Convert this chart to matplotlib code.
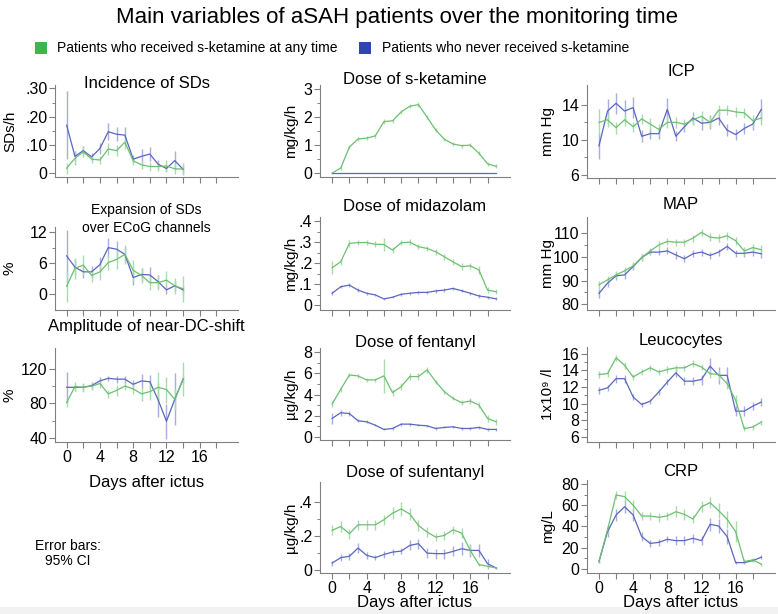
import numpy as np
import matplotlib
matplotlib.use('Agg')
import matplotlib.pyplot as plt
from matplotlib.patches import Rectangle

plt.rcParams['font.family'] = ['Liberation Sans', 'DejaVu Sans']

W, H = 778, 614

GREEN = '#6cc070'
BLUE = '#5a66c0'
GREEN_ERR = '#a8dcaa'
BLUE_ERR = '#a6ade0'
AXIS = '#808080'

days_sd = list(range(15))
days = list(range(20))

# --- SD data (days 0-14) ---
sd_inc_g = [0.018, 0.053, 0.076, 0.050, 0.047, 0.086, 0.080, 0.110, 0.044, 0.030, 0.024, 0.024, 0.026, 0.016, 0.015]
sd_inc_g_err = [0.02, 0.025, 0.02, 0.015, 0.015, 0.02, 0.02, 0.025, 0.015, 0.015, 0.015, 0.015, 0.02, 0.02, 0.02]
sd_inc_b = [0.170, 0.060, 0.080, 0.058, 0.088, 0.147, 0.138, 0.135, 0.050, 0.060, 0.068, 0.032, 0.017, 0.045, 0.014]
sd_inc_b_err = [0.12, 0.02, 0.015, 0.015, 0.02, 0.03, 0.025, 0.03, 0.015, 0.025, 0.025, 0.015, 0.01, 0.035, 0.015]

sd_exp_g = [1.5, 5.0, 5.6, 3.6, 4.3, 6.1, 6.7, 7.7, 4.6, 3.6, 2.2, 2.2, 2.7, 1.6, 1.0]
sd_exp_g_err = [3, 2, 2, 1.2, 1.5, 1.5, 1.8, 1.8, 2, 1.5, 1.5, 1.5, 1.8, 1.5, 2.5]
sd_exp_b = [7.4, 5.2, 4.3, 4.3, 5.7, 9.0, 8.7, 7.7, 3.2, 3.8, 3.7, 2.4, 0.8, 1.6, 0.8]
sd_exp_b_err = [5, 1.5, 1.2, 1.2, 1.5, 1.8, 1.5, 1.5, 1.5, 1.2, 1.5, 1.2, 0.8, 1.0, 0.8]

amp_g = [81, 99.4, 98.6, 100, 103, 91, 95, 100, 96.7, 91, 93.6, 98.6, 96, 84.7, 108]
amp_g_err = [5, 5, 5, 5, 5, 5, 6, 5, 6, 8, 10, 18, 15, 12, 20]
amp_b = [98.6, 98.6, 98.6, 100.6, 106, 109, 108, 108, 102, 106, 105, 84, 59.4, 84.7, 108]
amp_b_err = [18, 4, 4, 4, 4, 3, 4, 4, 5, 8, 8, 20, 20, 30, 5]

# --- medication (days 0-19) ---
ket_g = [0.0, 0.18, 0.93, 1.22, 1.25, 1.33, 1.84, 1.87, 2.19, 2.39, 2.45, 2.0, 1.54, 1.21, 1.04, 0.98, 1.0, 0.71, 0.33, 0.24]
ket_g_err = [0.02, 0.06, 0.07, 0.07, 0.07, 0.08, 0.08, 0.08, 0.08, 0.08, 0.08, 0.07, 0.07, 0.06, 0.06, 0.07, 0.08, 0.08, 0.08, 0.07]
ket_b = [0.0] * 20
ket_b_err = [0.0] * 20

mid_g = [0.178, 0.206, 0.294, 0.298, 0.298, 0.290, 0.289, 0.262, 0.297, 0.300, 0.278, 0.270, 0.254, 0.230, 0.206, 0.183, 0.187, 0.167, 0.071, 0.063]
mid_g_err = [0.03, 0.015, 0.015, 0.012, 0.012, 0.015, 0.03, 0.015, 0.012, 0.015, 0.012, 0.012, 0.015, 0.015, 0.015, 0.015, 0.015, 0.02, 0.015, 0.012]
mid_b = [0.056, 0.087, 0.095, 0.071, 0.056, 0.048, 0.029, 0.037, 0.051, 0.056, 0.060, 0.060, 0.067, 0.071, 0.079, 0.068, 0.056, 0.043, 0.037, 0.029]
mid_b_err = [0.01, 0.008, 0.008, 0.008, 0.006, 0.006, 0.005, 0.006, 0.008, 0.008, 0.008, 0.008, 0.008, 0.008, 0.008, 0.008, 0.008, 0.008, 0.007, 0.007]

fen_g = [3.1, 4.5, 5.85, 5.76, 5.38, 5.38, 5.76, 4.18, 4.75, 5.7, 5.7, 6.33, 5.22, 4.27, 3.64, 3.23, 3.39, 3.0, 1.74, 1.42]
fen_g_err = [0.3, 0.25, 0.2, 0.2, 0.2, 0.2, 1.6, 0.3, 0.3, 0.3, 0.3, 0.3, 0.2, 0.2, 0.2, 0.25, 0.25, 0.3, 0.3, 0.3]
fen_b = [1.74, 2.28, 2.2, 1.52, 1.42, 1.1, 0.7, 0.79, 1.2, 1.2, 1.1, 1.04, 0.79, 0.89, 0.95, 0.79, 0.79, 0.89, 0.7, 0.7]
fen_b_err = [0.5, 0.3, 0.2, 0.15, 0.15, 0.12, 0.1, 0.1, 0.15, 0.15, 0.12, 0.12, 0.1, 0.1, 0.1, 0.1, 0.1, 0.12, 0.15, 0.15]

suf_g = [0.233, 0.256, 0.213, 0.266, 0.266, 0.266, 0.296, 0.335, 0.360, 0.330, 0.262, 0.223, 0.193, 0.203, 0.236, 0.217, 0.114, 0.030, 0.020, 0.010]
suf_g_err = [0.03, 0.03, 0.03, 0.03, 0.03, 0.03, 0.03, 0.035, 0.04, 0.035, 0.03, 0.03, 0.025, 0.025, 0.025, 0.03, 0.03, 0.01, 0.01, 0.005]
suf_b = [0.039, 0.071, 0.079, 0.128, 0.085, 0.071, 0.090, 0.104, 0.110, 0.144, 0.154, 0.098, 0.095, 0.095, 0.108, 0.124, 0.114, 0.114, 0.035, 0.010]
suf_b_err = [0.015, 0.02, 0.02, 0.03, 0.02, 0.015, 0.02, 0.02, 0.02, 0.03, 0.03, 0.03, 0.03, 0.03, 0.03, 0.04, 0.04, 0.04, 0.03, 0.005]

# --- monitoring (days 0-19) ---
icp_g = [12.0, 12.3, 11.4, 12.3, 11.5, 12.4, 11.8, 11.2, 12.0, 12.0, 11.8, 12.3, 12.7, 12.0, 13.4, 13.4, 13.2, 13.1, 12.2, 12.5]
icp_g_err = [1.5, 0.8, 0.7, 0.7, 0.6, 0.6, 0.7, 0.6, 0.7, 0.6, 0.6, 0.6, 0.6, 0.6, 0.6, 0.6, 0.6, 0.6, 0.7, 0.8]
icp_b = [9.3, 13.3, 14.2, 13.3, 13.7, 10.4, 10.7, 10.7, 13.5, 10.4, 11.5, 12.5, 11.9, 12.0, 12.5, 11.1, 10.6, 11.3, 11.8, 13.5]
icp_b_err = [1.5, 1.4, 1.2, 1.3, 1.2, 0.7, 0.6, 0.6, 1.3, 0.6, 0.6, 0.7, 0.8, 0.8, 0.8, 0.7, 0.6, 0.6, 0.7, 1.2]

map_g = [88.2, 90.3, 92.4, 94.1, 96.2, 99.7, 102.5, 105, 106.5, 106.2, 106.2, 107.9, 110.3, 108.3, 107.9, 108.9, 106.8, 102.5, 103.9, 103]
map_g_err = [1.8, 1.5, 1.5, 1.5, 1.5, 1.4, 1.4, 1.5, 1.5, 1.5, 1.5, 1.5, 1.6, 1.6, 1.6, 1.6, 1.6, 1.6, 1.7, 1.8]
map_b = [84.6, 88.9, 92, 92.4, 95.9, 99.7, 102, 102, 102.5, 100.8, 99.2, 101.3, 102, 100.6, 102, 104.4, 101.5, 101.5, 102, 101.3]
map_b_err = [2, 1.8, 1.8, 1.6, 1.5, 1.4, 1.4, 1.4, 1.5, 1.5, 1.5, 1.5, 1.5, 1.5, 1.5, 1.6, 1.5, 1.5, 1.6, 1.8]

leu_g = [13.5, 13.6, 15.5, 14.6, 13.2, 13.8, 14.3, 13.8, 14.1, 14.3, 14.3, 14.8, 14.4, 13.6, 13.5, 12.4, 10.4, 7.0, 7.2, 7.8]
leu_g_err = [0.4, 0.4, 0.4, 0.4, 0.4, 0.4, 0.4, 0.4, 0.4, 0.4, 0.4, 0.4, 0.4, 0.5, 0.6, 0.6, 0.6, 0.3, 0.3, 0.3]
leu_b = [11.6, 11.9, 13.0, 13.0, 10.8, 9.9, 10.3, 11.4, 12.6, 13.7, 12.7, 12.7, 12.9, 14.5, 13.4, 13.4, 9.1, 9.1, 9.7, 10.2]
leu_b_err = [0.4, 0.4, 0.5, 0.5, 0.4, 0.3, 0.3, 0.4, 0.4, 0.5, 0.5, 0.5, 0.6, 1.0, 1.0, 1.0, 0.6, 0.6, 0.5, 0.5]

crp_g = [6.9, 36.7, 69.7, 68.1, 60, 49.8, 49.8, 48.6, 50, 53.9, 51.4, 47, 58.6, 62.4, 54.9, 46.7, 35, 6.9, 8.5, 4.4]
crp_g_err = [1.5, 4, 4, 5, 5, 4, 4, 4, 4, 5, 5, 4, 5, 5, 7, 8, 10, 2, 2, 1.5]
crp_b = [6.9, 35, 50.8, 58.6, 50.8, 30.4, 24, 25, 27.9, 26.6, 26.6, 28.8, 26.6, 42, 40.4, 30.4, 5.9, 5.9, 7.8, 11]
crp_b_err = [1.5, 5, 6, 6, 6, 4, 3, 3, 3, 4, 4, 4, 4, 6, 7, 7, 1.5, 1.5, 1.5, 2]

fig = plt.figure(figsize=(W / 100, H / 100), dpi=100)
fig.patch.set_facecolor('white')


def px_axes(left, right, top, bottom):
    return fig.add_axes([left / W, 1 - bottom / H, (right - left) / W, (bottom - top) / H])


def panel(box, title, title_y, ylabel, ylabel_x, ylim, yticks, yticklabels,
          x, g, g_err, b, b_err, xlabels=False, title_size=12):
    left, right, top, bottom = box
    ax = px_axes(left, right, top, bottom)
    ax.errorbar(x, b, yerr=b_err, fmt='none', ecolor=BLUE_ERR, elinewidth=1.0, capsize=0)
    ax.errorbar(x, g, yerr=g_err, fmt='none', ecolor=GREEN_ERR, elinewidth=1.0, capsize=0)
    ax.plot(x, b, color=BLUE, lw=0.9)
    ax.plot(x, g, color=GREEN, lw=0.9)
    ax.set_xlim(-1.4, 20.6)
    ax.set_ylim(*ylim)
    ax.set_yticks(yticks)
    ax.set_yticklabels(yticklabels)
    minor = [(yticks[i] + yticks[i + 1]) / 2 for i in range(len(yticks) - 1)]
    ax.set_yticks(minor, minor=True)
    xt = list(range(0, 20, 2))
    ax.set_xticks(xt)
    if xlabels:
        ax.set_xticklabels([str(v) if v % 4 == 0 else '' for v in xt])
    else:
        ax.set_xticklabels([])
    for s in ['top', 'right']:
        ax.spines[s].set_visible(False)
    for s in ['left', 'bottom']:
        ax.spines[s].set_color(AXIS)
        ax.spines[s].set_linewidth(0.8)
    ax.tick_params(axis='both', which='major', length=4, width=0.8, color=AXIS,
                   labelsize=11.5, pad=1.5)
    ax.tick_params(axis='y', which='minor', length=2.5, width=0.7, color=AXIS)
    ax.patch.set_alpha(0)
    cx = (left + right) / 2
    if isinstance(title, (list, tuple)):
        for t, ty in zip(title, title_y):
            fig.text(cx / W, 1 - ty / H, t, ha='center', va='center', fontsize=title_size)
    else:
        fig.text(cx / W, 1 - title_y / H, title, ha='center', va='center', fontsize=title_size)
    fig.text(ylabel_x / W, 1 - ((top + bottom) / 2) / H, ylabel, rotation=90,
             ha='center', va='center', fontsize=11)
    return ax


C1 = (55, 238)
C2 = (320, 510)
C3 = (587, 775)

# column 1
panel((*C1, 85, 177), 'Incidence of SDs', 83, 'SDs/h', 10, (-0.013, 0.312),
      [0, 0.1, 0.2, 0.3], ['0', '.10', '.20', '.30'],
      days_sd, sd_inc_g, sd_inc_g_err, sd_inc_b, sd_inc_b_err)
panel((*C1, 227, 310), ['Expansion of SDs', 'over ECoG channels'], [210, 228], '%', 10,
      (-3.1, 13.0), [0, 6, 12], ['0', '6', '12'],
      days_sd, sd_exp_g, sd_exp_g_err, sd_exp_b, sd_exp_b_err, title_size=10)
panel((*C1, 348, 442), 'Amplitude of near-DC-shift', 327, '%', 10, (35.4, 144),
      [40, 80, 120], ['40', '80', '120'],
      days_sd, amp_g, amp_g_err, amp_b, amp_b_err, xlabels=True)
fig.text(((C1[0] + C1[1]) / 2) / W, 1 - 482 / H, 'Days after ictus', ha='center', va='center', fontsize=12)
fig.text(68 / W, 1 - 546 / H, 'Error bars:', ha='center', va='center', fontsize=10)
fig.text(68 / W, 1 - 561 / H, '95% CI', ha='center', va='center', fontsize=10)

# column 2
panel((*C2, 85, 177), 'Dose of s-ketamine', 80, 'mg/kg/h', 291, (-0.14, 3.15),
      [0, 1, 2, 3], ['0', '1', '2', '3'],
      days, ket_g, ket_g_err, ket_b, ket_b_err)
panel((*C2, 217, 310), 'Dose of midazolam', 207, 'mg/kg/h', 291, (-0.024, 0.42),
      [0, 0.1, 0.2, 0.3, 0.4], ['0', '.1', '.2', '.3', '.4'],
      days, mid_g, mid_g_err, mid_b, mid_b_err)
panel((*C2, 348, 440), 'Dose of fentanyl', 342, 'µg/kg/h', 291, (-0.3, 8.4),
      [0, 2, 4, 6, 8], ['0', '2', '4', '6', '8'],
      days, fen_g, fen_g_err, fen_b, fen_b_err)
panel((*C2, 482, 573), 'Dose of sufentanyl', 472, 'µg/kg/h', 291, (-0.02, 0.52),
      [0, 0.2, 0.4], ['0', '.2', '.4'],
      days, suf_g, suf_g_err, suf_b, suf_b_err, xlabels=True)
fig.text(((C2[0] + C2[1]) / 2) / W, 1 - 603 / H, 'Days after ictus', ha='center', va='center', fontsize=12)

# column 3
panel((*C3, 85, 178), 'ICP', 72, 'mm Hg', 548, (5.6, 16.3),
      [6, 10, 14], ['6', '10', '14'],
      days, icp_g, icp_g_err, icp_b, icp_b_err)
panel((*C3, 217, 310), 'MAP', 205, 'mm Hg', 548, (77.6, 116.8),
      [80, 90, 100, 110], ['80', '90', '100', '110'],
      days, map_g, map_g_err, map_b, map_b_err)
panel((*C3, 347, 442), 'Leucocytes', 340, '1x10⁹ /l', 548, (5.4, 16.8),
      [6, 8, 10, 12, 14, 16], ['6', '8', '10', '12', '14', '16'],
      days, leu_g, leu_g_err, leu_b, leu_b_err)
panel((*C3, 480, 573), 'CRP', 472, 'mg/L', 548, (-3.9, 83.8),
      [0, 20, 40, 60, 80], ['0', '20', '40', '60', '80'],
      days, crp_g, crp_g_err, crp_b, crp_b_err, xlabels=True)
fig.text(((C3[0] + C3[1]) / 2) / W, 1 - 603 / H, 'Days after ictus', ha='center', va='center', fontsize=12)

# title and legend
fig.text(397 / W, 1 - 17 / H, 'Main variables of aSAH patients over the monitoring time',
         ha='center', va='center', fontsize=16)
fig.add_artist(Rectangle((35 / W, 1 - 54 / H), 12 / W, 12 / H, transform=fig.transFigure,
                         facecolor='#3cb54a', edgecolor='none'))
fig.text(57 / W, 1 - 48 / H, 'Patients who received s-ketamine at any time', ha='left', va='center', fontsize=10)
fig.add_artist(Rectangle((359 / W, 1 - 54 / H), 12 / W, 12 / H, transform=fig.transFigure,
                         facecolor='#2f45b0', edgecolor='none'))
fig.text(382 / W, 1 - 48 / H, 'Patients who never received s-ketamine', ha='left', va='center', fontsize=10)

fig.add_artist(Rectangle((0, 0), 1, 7 / H, transform=fig.transFigure,
                         facecolor='#f2f2f2', edgecolor='none', zorder=-1))

fig.savefig('out.png', dpi=100)
